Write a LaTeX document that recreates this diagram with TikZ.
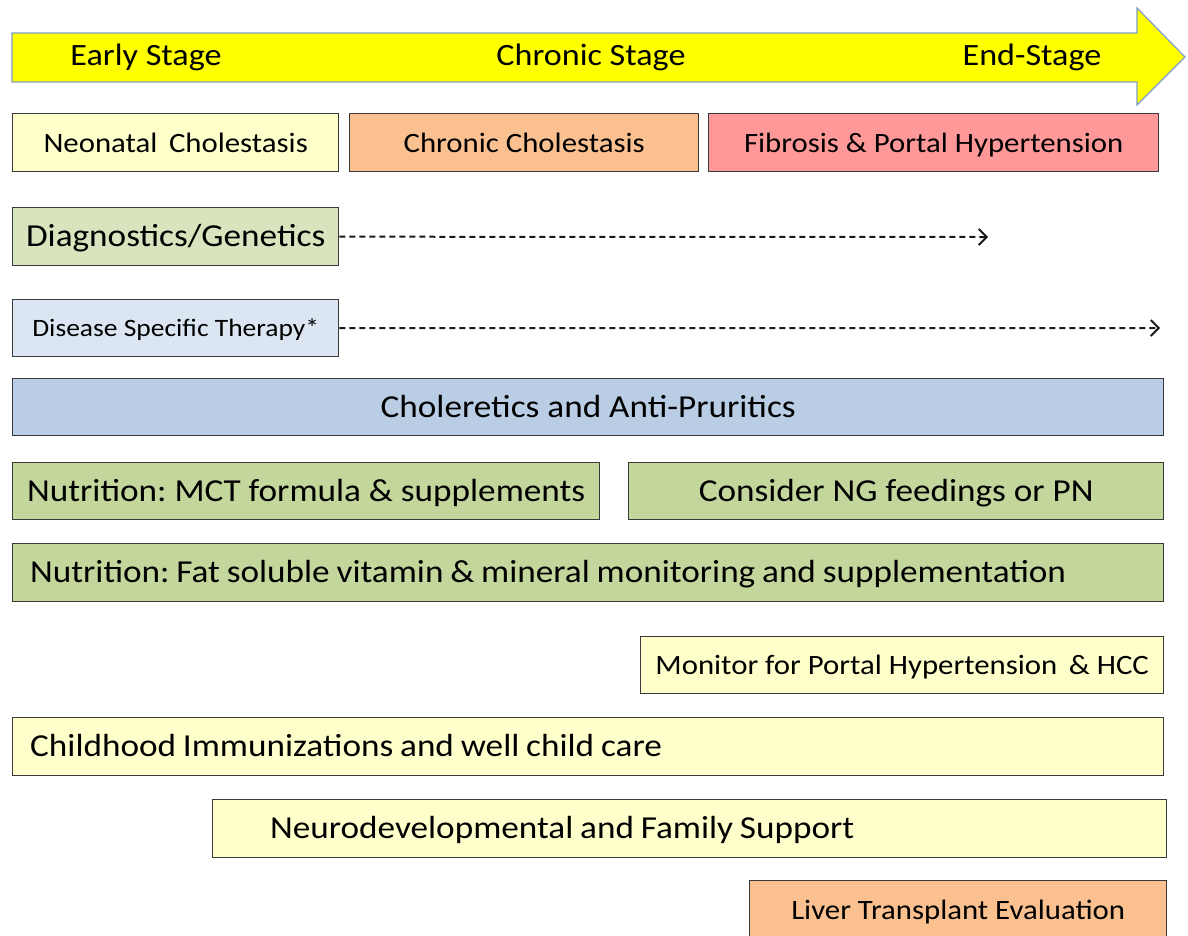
\documentclass[tikz,border=0pt]{standalone}
\usepackage{fontspec}
\setmainfont{Carlito}[FakeStretch=1.1]
\newfontfamily\tightfont{Carlito}[FakeStretch=1.1, WordSpace=0.86]
\usetikzlibrary{arrows.meta}
\frenchspacing

\definecolor{stageyellow}{HTML}{FFFF00}
\definecolor{stageline}{HTML}{7F9DC9}
\definecolor{boxline}{HTML}{3A3A3A}
\definecolor{paleyellow}{HTML}{FFFFCC}
\definecolor{peach}{HTML}{FAC090}
\definecolor{rose}{HTML}{FF9999}
\definecolor{sage}{HTML}{D7E4BD}
\definecolor{iceblue}{HTML}{DCE6F2}
\definecolor{steel}{HTML}{B9CDE5}
\definecolor{olive}{HTML}{C3D69B}

\tikzset{
  bar/.style={draw=boxline, line width=1.4pt, minimum height=58pt, inner sep=0pt, anchor=north west},
  stagefont/.style={font=\fontsize{31}{31}\selectfont},
  smallfont/.style={font=\fontsize{28}{28}\selectfont, text height=22pt, text depth=2.6pt},
  bigfont/.style={font=\fontsize{32}{32}\selectfont, text height=23pt, text depth=3pt},
  tightbig/.style={font=\fontsize{32}{32}\tightfont, text height=23pt, text depth=3pt, inner sep=0pt, anchor=west},
  flow/.style={draw=black!90, line width=2pt, dash pattern=on 6pt off 4pt, -{Straight Barb[length=8pt,width=16pt,line width=1.8pt]}}
}

\begin{document}
\begin{tikzpicture}[x=1pt,y=-1pt]
\useasboundingbox (0,0) rectangle (1188,935);
% stage arrow
\draw[fill=stageyellow, draw=stageline, line width=1.2pt] (12,33) -- (1137,33) -- (1137,8) -- (1185,57) -- (1137,105) -- (1137,82) -- (12,82) -- cycle;
\node[stagefont] (early) at (146,57) {Early Stage};
\node[stagefont] (chronic) at (591,57) {Chronic Stage};
\node[stagefont] (endst) at (1032,57) {End-Stage};
% disease phases
\node[bar, smallfont, fill=paleyellow, minimum width=326pt] (neonatal) at (12,113) {Neonatal\, Cholestasis};
\node[bar, smallfont, fill=peach, minimum width=349pt] (cholest) at (349,113) {Chronic Cholestasis};
\node[bar, smallfont, fill=rose, minimum width=450pt] (fibrosis) at (708,113) {Fibrosis \& Portal Hypertension};
% management
\node[bar, bigfont, fill=sage, minimum width=326pt] (diag) at (12,207) {Diagnostics/Genetics};
\coordinate (diagend) at (988,237);
\draw[flow] (diag.east) -- (diagend);
\node[bar, font=\fontsize{25}{25}\selectfont, text height=19pt, text depth=3pt, fill=iceblue, minimum width=326pt, minimum height=57pt] (therapy) at (12,299) {Disease Specific Therapy*};
\coordinate (therapyend) at (1160,328);
\draw[flow] (therapy.east) -- (therapyend);
\node[bar, bigfont, fill=steel, minimum width=1151pt, minimum height=57pt] (chol) at (12,378) {Choleretics and Anti-Pruritics};
\node[bar, bigfont, fill=olive, minimum width=587pt, minimum height=57pt] (mct) at (12,462) {Nutrition: MCT formula \& supplements};
\node[bar, bigfont, fill=olive, minimum width=535pt, minimum height=57pt] (ngfeed) at (628,462) {Consider NG feedings or PN};
\node[bar, fill=olive, minimum width=1151pt] (vitamin) at (12,543) {};
\node[tightbig] (vitamintext) at ([xshift=18pt]vitamin.west) {Nutrition: Fat soluble vitamin \& mineral monitoring and supplementation};
\node[bar, smallfont, fill=paleyellow, minimum width=523pt, minimum height=57pt] (monitor) at (640,636) {Monitor for Portal Hypertension\, \& HCC};
\node[bar, fill=paleyellow, minimum width=1151pt] (child) at (12,717) {};
\node[tightbig] (childtext) at ([xshift=18pt]child.west) {Childhood Immunizations and well child care};
\node[bar, fill=paleyellow, minimum width=954pt] (neuro) at (212,799) {};
\node[tightbig] (neurotext) at ([xshift=58pt]neuro.west) {Neurodevelopmental and Family Support};
\node[bar, smallfont, fill=peach, minimum width=417pt] (liver) at (749,880) {Liver Transplant Evaluation};
\end{tikzpicture}
\end{document}
